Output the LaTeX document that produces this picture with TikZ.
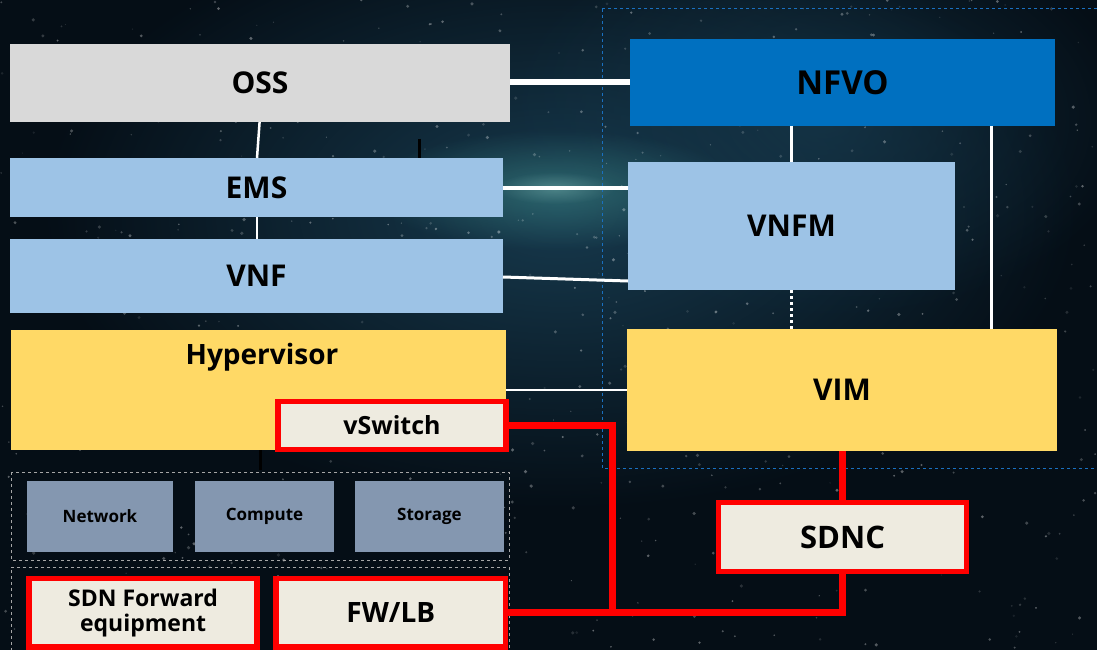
\documentclass[tikz,border=0pt]{standalone}
\usepackage{fontspec}
\setmainfont{Open Sans}
\usetikzlibrary{fadings}
\definecolor{bgnavy}{HTML}{050E16}
\definecolor{haze}{HTML}{173A4E}
\definecolor{glowteal}{HTML}{3E8C8A}
\definecolor{ossgray}{HTML}{D9D9D9}
\definecolor{lightblue}{HTML}{9DC3E6}
\definecolor{nfvoblue}{HTML}{0070C0}
\definecolor{gold}{HTML}{FFD966}
\definecolor{slate}{HTML}{8497B0}
\definecolor{cream}{HTML}{EEEBE0}
\definecolor{alertred}{HTML}{FF0000}
\definecolor{frameblue}{HTML}{1A70C0}
\tikzfading[name=softglow, inner color=transparent!0, outer color=transparent!100]
\tikzset{
  fsz/.style={font=\bfseries\fontsize{#1}{#1}\selectfont},
  blk/.style={inner sep=0pt, outer sep=0pt, text=black, align=center},
  plain/.style={blk, fill=#1},
  redbox/.style={blk, fill=cream, draw=alertred, line width=5.5pt},
  link/.style={draw=white, line width=#1},
  redlink/.style={draw=alertred, line width=7pt},
  grayframe/.style={draw=gray!70, dashed, line width=0.8pt},
  blueframe/.style={draw=frameblue, dashed, line width=1pt},
}
\begin{document}
\begin{tikzpicture}[x=1pt, y=-1pt]
% backdrop: night sky
\fill[bgnavy] (0,0) rectangle (1097,650);
\useasboundingbox (0,0) rectangle (1097,650);
\fill[haze, path fading=softglow] (560,210) ellipse [x radius=520, y radius=300];
\fill[haze, opacity=0.7, path fading=softglow] (820,120) ellipse [x radius=320, y radius=200];
\fill[glowteal, opacity=0.55, path fading=softglow] (555,190) ellipse [x radius=190, y radius=60];
\fill[glowteal!60!white, opacity=0.35, path fading=softglow] (555,188) ellipse [x radius=60, y radius=16];
\pgfmathsetseed{4117}
\foreach \k in {1,...,700} {
  \pgfmathsetmacro\sx{rnd*1097}
  \pgfmathsetmacro\sy{rnd*650}
  \pgfmathsetmacro\so{0.08+0.3*rnd}
  \pgfmathsetmacro\sr{0.6+1.2*rnd}
  \fill[white, opacity=\so] (\sx,\sy) circle [radius=\sr];
}

% dashed groupings
\draw[blueframe] (602,9) -- (1100,9) (602,9) -- (602,468) -- (1100,468);
\draw[grayframe] (11,472) rectangle (509,560);
\draw[grayframe] (509,660) -- (509,567) -- (11,567) -- (11,660);

% management and function blocks
\node[plain=ossgray, fsz=30, minimum width=500pt, minimum height=78pt] (oss) at (260,83) {OSS};
\node[plain=lightblue, fsz=30, minimum width=493pt, minimum height=59pt] (ems) at (256.5,187.5) {EMS};
\node[plain=lightblue, fsz=30, minimum width=493pt, minimum height=74pt] (vnf) at (256.5,276) {VNF};
\node[plain=nfvoblue, fsz=33, minimum width=425pt, minimum height=87pt] (nfvo) at (842.5,82.5) {NFVO};
\node[plain=lightblue, fsz=30, minimum width=327pt, minimum height=128pt] (vnfm) at (791.5,226) {VNFM};
\node[plain=gold, minimum width=495pt, minimum height=120pt] (hyp) at (258.5,390) {};
\node[blk, fsz=28] (hyplabel) at (262,357) {Hypervisor};
\node[plain=gold, fsz=30, minimum width=430pt, minimum height=122pt] (vim) at (842,390) {VIM};

% infrastructure resources
\node[plain=slate, fsz=17, minimum width=146pt, minimum height=71pt] (net) at (100,516) {Network};
\node[plain=slate, fsz=17, minimum width=139pt, minimum height=71pt] (cmp) at (264.5,516) {Compute};
\node[plain=slate, fsz=17, minimum width=149pt, minimum height=71pt] (sto) at (429.5,516) {Storage};

% SDN components
\node[redbox, fsz=25, minimum width=228pt, minimum height=47.7pt] (vsw) at (392,425.4) {vSwitch};
\node[redbox, fsz=31, minimum width=248pt, minimum height=69pt] (sdnc) at (842.6,537) {SDNC};
\node[redbox, font=\bfseries\fontsize{23}{25}\selectfont, minimum width=228pt, minimum height=68.6pt] (fwd) at (143.1,612.7) {SDN Forward\\equipment};
\node[redbox, fsz=28, minimum width=229.6pt, minimum height=68.6pt] (fwlb) at (390.8,612.7) {FW/LB};

% white reference-point links
\draw[link=5.5pt] (oss.east |- 0,82) -- (nfvo.west |- 0,82);
\draw[link=3.5pt] (ems.east |- 0,188) -- (vnfm.west |- 0,188);
\draw[link=3pt] (vnf.east |- 0,277) -- (vnfm.west |- 0,281);
\draw[link=2.5pt] (oss.south -| 259.6,0) -- (ems.north -| 257,0);
\draw[link=2.5pt] (ems.south -| 257,0) -- (vnf.north -| 257,0);
\draw[link=3pt] (nfvo.south -| 791.5,0) -- (vnfm.north -| 791.5,0);
\draw[link=3pt] (nfvo.south -| 991,0) -- (vim.north -| 991,0);
\draw[link=3pt, dash pattern=on 3pt off 3pt] (vnfm.south -| 791.5,0) -- (vim.north -| 791.5,0);
\draw[link=2.5pt] (hyp.east |- 0,390) -- (vim.west |- 0,390);

% short dark stubs
\coordinate (stubA) at (419,139);
\coordinate (stubB) at (260,470);
\draw[black, line width=3pt] (stubA) -- (stubA |- ems.north);
\draw[black, line width=3pt] (hyp.south -| stubB) -- (stubB);

% SDN control links
\coordinate (bend) at (612,612);
\draw[redlink] (vim.south -| sdnc.north) -- (sdnc.north);
\draw[redlink] (vsw.east) -- (bend |- vsw.east) -- (bend);
\draw[redlink] (fwlb.east |- bend) -- (sdnc.south |- bend) -- (sdnc.south);
\end{tikzpicture}
\end{document}
